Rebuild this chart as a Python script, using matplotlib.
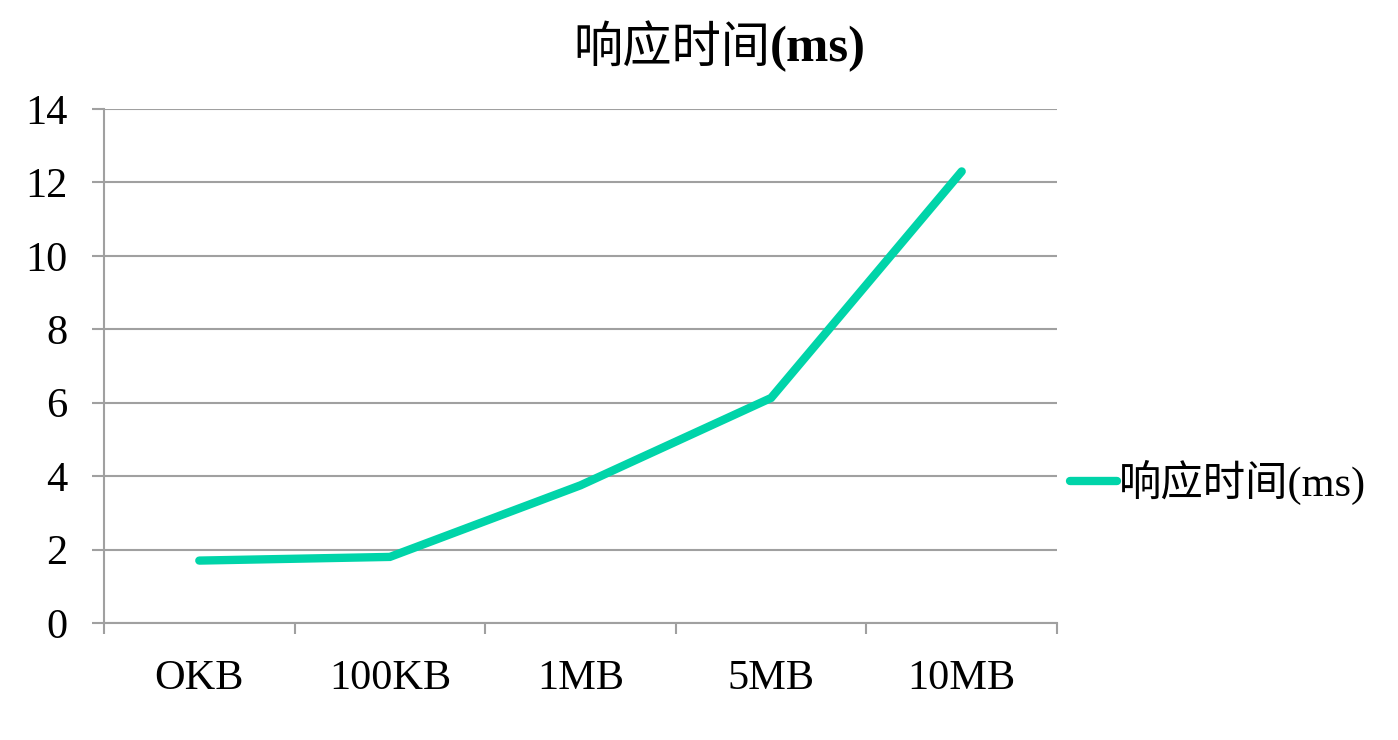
import numpy as np
import matplotlib.pyplot as plt

categories = ["OKB", "100KB", "1MB", "5MB", "10MB"]
response_ms = [1.7, 1.8, 3.75, 6.13, 12.3]
y_ticks = [0, 2, 4, 6, 8, 10, 12, 14]

fonts = ['Liberation Serif', 'Noto Sans CJK SC', 'DejaVu Sans']
plt.rcParams['font.family'] = fonts

line_color = '#00D4A9'
grid_color = '#A0A0A0'

fig = plt.figure(figsize=(13.98, 7.4), dpi=100)
ax = fig.add_axes([104 / 1398, 1 - 623 / 740, (1057 - 104) / 1398, (623 - 109) / 740])

x = np.arange(len(categories))
line, = ax.plot(x, response_ms, color=line_color, lw=6, solid_capstyle='round',
                solid_joinstyle='miter', label='响应时间(ms)', zorder=3)

ax.set_xlim(-0.5, len(categories) - 0.5)
ax.set_ylim(0, 14)
ax.set_yticks(y_ticks)
ax.set_yticklabels([str(v) for v in y_ticks])
ax.set_xticks(x)
ax.set_xticklabels(categories)
ax.set_xticks(np.arange(len(categories) + 1) - 0.5, minor=True)

ax.tick_params(axis='x', which='major', length=0, pad=26, labelsize=30.5)
ax.tick_params(axis='x', which='minor', length=8, width=1.5, color=grid_color, direction='out')
ax.tick_params(axis='y', length=8.5, width=1.5, color=grid_color, direction='out', pad=18, labelsize=30.5)

ax.grid(True, axis='y', color=grid_color, lw=1.5)
ax.set_axisbelow(True)
for side in ['top', 'right']:
    ax.spines[side].set_visible(False)
for side in ['left', 'bottom']:
    ax.spines[side].set_color(grid_color)
    ax.spines[side].set_linewidth(1.5)

# title: CJK regular + bold "(ms)"
t1 = fig.text(573 / 1398, 1 - 62 / 740, '响应时间', fontsize=35.5, ha='left', va='baseline')
ax.annotate('(ms)', xy=(1, 0), xycoords=t1, xytext=(0, 0), textcoords='offset points',
            fontsize=36.5, fontweight='bold', ha='left', va='bottom')

fig.legend(handles=[line], loc='center left', bbox_to_anchor=(1070 / 1398, 1 - 482 / 740),
           frameon=False, fontsize=30.5, handlelength=1.1, handletextpad=0.05, borderpad=0,
           borderaxespad=0)

fig.savefig('out.png', dpi=100)
